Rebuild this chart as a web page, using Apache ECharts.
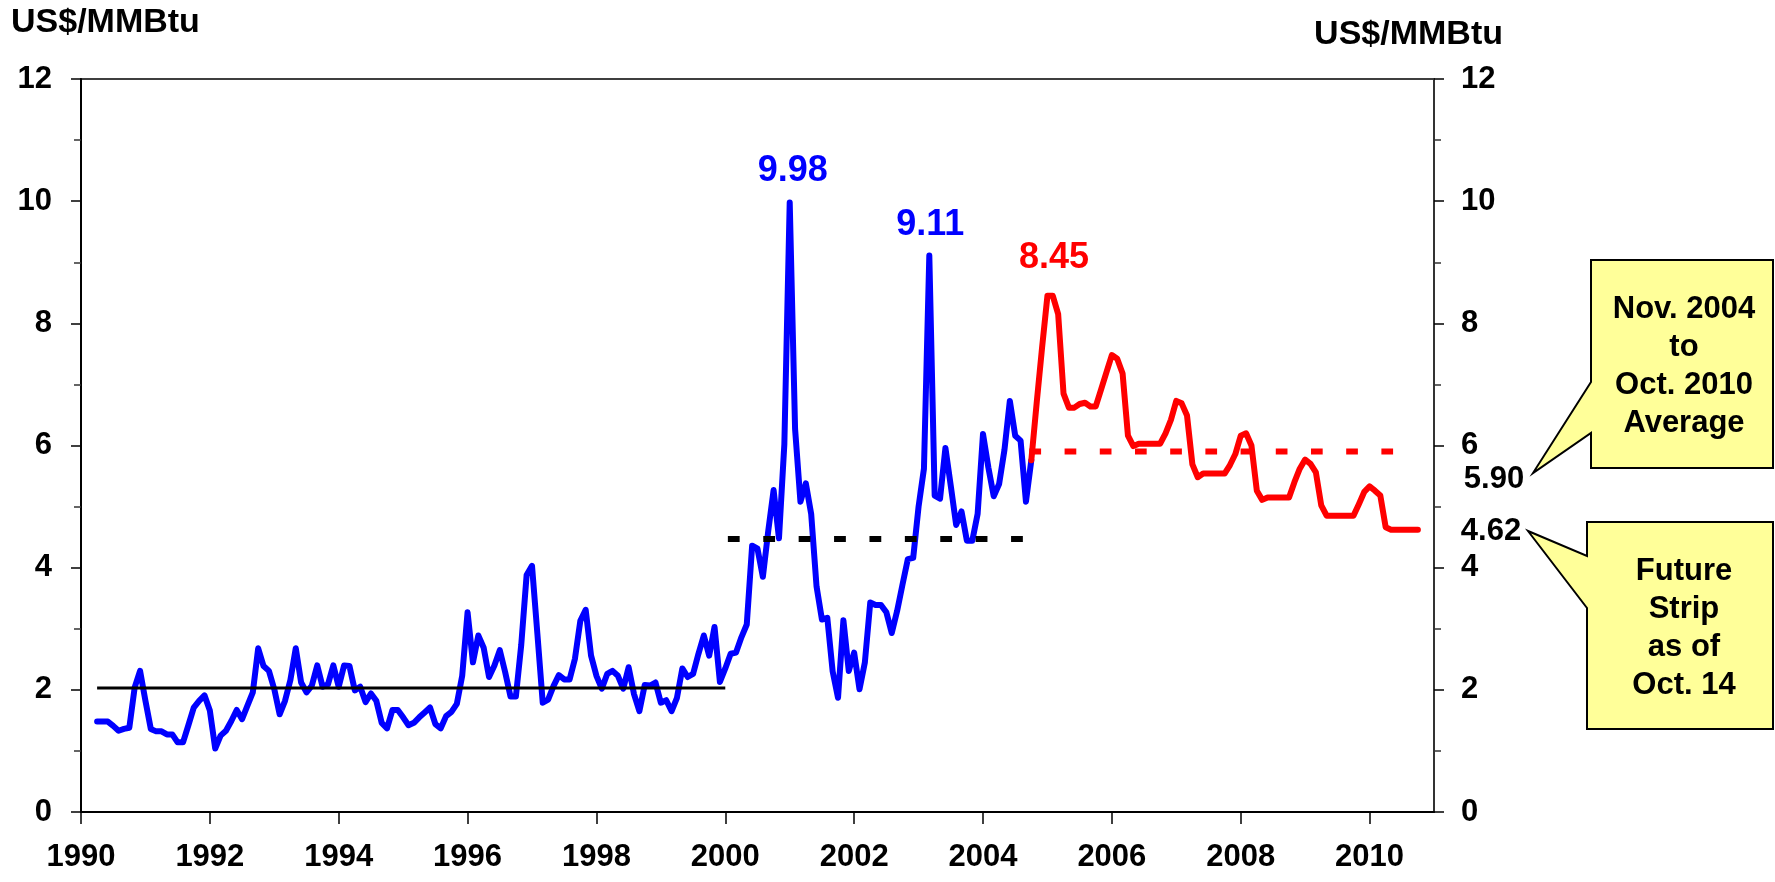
<!DOCTYPE html>
<html>
<head>
<meta charset="utf-8">
<script src="https://cdn.jsdelivr.net/npm/echarts@6/dist/echarts.min.js"></script>
<style>
html,body{margin:0;padding:0;background:#ffffff;}
#chart{width:1775px;height:882px;}
</style>
</head>
<body>
<div id="chart"></div>
<script>
// ---------- DATA ----------
const xTickYears = [1990, 1992, 1994, 1996, 1998, 2000, 2002, 2004, 2006, 2008, 2010];
const unitLabel = 'US$/MMBtu';

// Historical monthly prices (blue), starting April 1990
const histStartYear = 1990, histStartMonth = 4;
const hist1990 = [1.48, 1.48, 1.48, 1.41, 1.33, 1.36, 1.38, 2.04, 2.31];
const hist1991 = [1.82, 1.36, 1.32, 1.32, 1.27, 1.27, 1.14, 1.14, 1.42, 1.71, 1.82, 1.91];
const hist1992 = [1.66, 1.04, 1.25, 1.33, 1.49, 1.67, 1.52, 1.74, 1.96, 2.68, 2.39, 2.31];
const hist1993 = [2.01, 1.60, 1.82, 2.16, 2.68, 2.12, 1.96, 2.07, 2.40, 2.05, 2.09, 2.40];
const hist1994 = [2.05, 2.40, 2.39, 1.99, 2.05, 1.80, 1.94, 1.82, 1.46, 1.37, 1.67, 1.67];
const hist1995 = [1.55, 1.42, 1.46, 1.55, 1.63, 1.71, 1.44, 1.37, 1.57, 1.64, 1.77, 2.23];
const hist1996 = [3.27, 2.45, 2.89, 2.69, 2.21, 2.40, 2.65, 2.29, 1.89, 1.89, 2.74, 3.88];
const hist1997 = [4.03, 2.92, 1.79, 1.84, 2.06, 2.24, 2.17, 2.17, 2.51, 3.13, 3.31, 2.56];
const hist1998 = [2.23, 2.02, 2.26, 2.31, 2.23, 2.02, 2.37, 1.93, 1.65, 2.08, 2.07, 2.12];
const hist1999 = [1.79, 1.83, 1.65, 1.87, 2.35, 2.21, 2.26, 2.59, 2.89, 2.56, 3.03, 2.13];
const hist2000 = [2.35, 2.59, 2.61, 2.86, 3.07, 4.36, 4.31, 3.85, 4.60, 5.27, 4.48, 6.02];
const hist2001 = [9.98, 6.27, 5.08, 5.38, 4.88, 3.69, 3.15, 3.18, 2.30, 1.87, 3.14, 2.31];
const hist2002 = [2.61, 2.01, 2.45, 3.43, 3.39, 3.39, 3.27, 2.93, 3.29, 3.72, 4.14, 4.16];
const hist2003 = [5.00, 5.62, 9.11, 5.18, 5.13, 5.96, 5.34, 4.70, 4.92, 4.44, 4.44, 4.88];
const hist2004 = [6.19, 5.64, 5.17, 5.37, 5.93, 6.73, 6.16, 6.08, 5.08, 5.76];

// Futures strip as of Oct. 14 (red), starting October 2004 (joins last historical point)
const stripStartYear = 2004, stripStartMonth = 10;
const strip2004 = [5.76, 6.70, 7.60];
const strip2005 = [8.45, 8.45, 8.15, 6.85, 6.62, 6.62, 6.68, 6.70, 6.64, 6.64, 6.92, 7.20];
const strip2006 = [7.48, 7.42, 7.18, 6.16, 5.99, 6.03, 6.03, 6.03, 6.03, 6.03, 6.20, 6.42];
const strip2007 = [6.73, 6.69, 6.49, 5.69, 5.48, 5.54, 5.54, 5.54, 5.54, 5.54, 5.68, 5.86];
const strip2008 = [6.16, 6.20, 6.00, 5.26, 5.11, 5.15, 5.15, 5.15, 5.15, 5.15, 5.40, 5.62];
const strip2009 = [5.77, 5.70, 5.56, 5.02, 4.85, 4.85, 4.85, 4.85, 4.85, 4.85, 5.04, 5.24];
const strip2010 = [5.33, 5.26, 5.18, 4.66, 4.62, 4.62, 4.62, 4.62, 4.62, 4.62];

// Period averages
const avgNames  = ['1990s average', '2000-2004 average', 'Nov. 2004 to Oct. 2010 average'];
const avgValues = [2.03, 4.47, 5.90];
const avgFrom   = [1990.25, 2000.04, 2004.72];
const avgTo     = [2000.00, 2004.65, 2010.37];

// Peak labels
const peakText   = ['9.98', '9.11', '8.45'];
const peakYear   = [2001.0, 2003 + 2 / 12, 2005.04];
const peakValues = [9.98, 9.11, 8.45];

// Side annotations
const sideValueText = ['5.90', '4.62'];
const callout1Lines = ['Nov. 2004', 'to', 'Oct. 2010', 'Average'];
const callout2Lines = ['Future', 'Strip', 'as of', 'Oct. 14'];

// ---------- BUILD ----------
function toMonthly(startYear, startMonth, arrays) {
  const out = [];
  let k = 0;
  arrays.forEach(arr => arr.forEach(v => {
    const x = startYear + (startMonth - 1 + k) / 12;
    out.push([x, v]);
    k++;
  }));
  return out;
}
const histData = toMonthly(histStartYear, histStartMonth,
  [hist1990, hist1991, hist1992, hist1993, hist1994, hist1995, hist1996, hist1997,
   hist1998, hist1999, hist2000, hist2001, hist2002, hist2003, hist2004]);
const stripData = toMonthly(stripStartYear, stripStartMonth,
  [strip2004, strip2005, strip2006, strip2007, strip2008, strip2009, strip2010]);

const FONT = '"Liberation Sans", Arial, Helvetica, sans-serif';
const BLUE = '#0000FF', RED = '#FF0000';

function avgSeries(i, color, width, type) {
  return {
    type: 'line', name: avgNames[i],
    data: [[avgFrom[i], avgValues[i]], [avgTo[i], avgValues[i]]],
    symbol: 'none', silent: true, z: 5,
    lineStyle: { color: color, width: width, type: type, cap: 'butt' }
  };
}
function peakPoint(i, color, offset) {
  return {
    coord: [peakYear[i], peakValues[i]], value: peakText[i],
    label: { color: color, offset: offset }
  };
}

const chart = echarts.init(document.getElementById('chart'), null, { renderer: 'canvas' });

const yAxisCommon = {
  type: 'value', min: 0, max: 12, interval: 2,
  splitLine: { show: false },
  axisTick: { show: true, length: 10, lineStyle: { color: '#000', width: 1.5 } },
  minorTick: { show: true, splitNumber: 2, length: 7, lineStyle: { color: '#333', width: 1.5 } },
  minorSplitLine: { show: false },
  axisLabel: { color: '#000', fontFamily: FONT, fontWeight: 'bold', fontSize: 31, margin: 29 }
};

const option = {
  animation: false,
  backgroundColor: '#ffffff',
  grid: { left: 81, right: 341, top: 79, bottom: 70, show: true, borderColor: '#000', borderWidth: 1.5, backgroundColor: 'transparent' },
  xAxis: {
    type: 'value', min: 1990, max: 2011,
    splitLine: { show: false },
    axisLine: { show: true, onZero: false, lineStyle: { color: '#000', width: 2 } },
    axisTick: { show: true, length: 12, customValues: xTickYears, lineStyle: { color: '#000', width: 1.5 } },
    axisLabel: { customValues: xTickYears, color: '#000', fontFamily: FONT, fontWeight: 'bold', fontSize: 31, margin: 30,
                 formatter: v => (xTickYears.indexOf(v) >= 0 ? String(v) : '') }
  },
  yAxis: [
    Object.assign({}, yAxisCommon, { position: 'left',
      axisLine: { show: true, onZero: false, lineStyle: { color: '#000', width: 2 } } }),
    Object.assign({}, yAxisCommon, { position: 'right',
      axisLine: { show: true, onZero: false, lineStyle: { color: '#333', width: 2 } },
      axisLabel: Object.assign({}, yAxisCommon.axisLabel, { margin: 27 }) })
  ],
  series: [
    {
      type: 'line', name: 'Historical', data: histData, symbol: 'none', z: 3,
      lineStyle: { color: BLUE, width: 6, join: 'round', cap: 'round' },
      markPoint: {
        symbol: 'rect', symbolSize: 1, itemStyle: { color: 'rgba(0,0,0,0)' }, silent: true,
        label: { show: true, position: 'inside', formatter: p => p.value, fontFamily: FONT, fontWeight: 'bold', fontSize: 36 },
        data: [peakPoint(0, BLUE, [3, -31]), peakPoint(1, BLUE, [1, -30])]
      }
    },
    {
      type: 'line', name: 'Future strip', data: stripData, symbol: 'none', z: 3,
      lineStyle: { color: RED, width: 6, join: 'round', cap: 'round' },
      markPoint: {
        symbol: 'rect', symbolSize: 1, itemStyle: { color: 'rgba(0,0,0,0)' }, silent: true,
        label: { show: true, position: 'inside', formatter: p => p.value, fontFamily: FONT, fontWeight: 'bold', fontSize: 36 },
        data: [peakPoint(2, RED, [4, -38])]
      }
    },
    avgSeries(0, '#000', 3, 'solid'),
    avgSeries(1, '#000', 6, [11.8, 23.6]),
    avgSeries(2, RED, 6, [11.7, 23.5])
  ]
};
chart.setOption(option);

// ---------- ANNOTATIONS ----------
const textFont = 'bold 31px ' + FONT;
const y590 = chart.convertToPixel({ yAxisIndex: 0 }, avgValues[2]);
const y462 = chart.convertToPixel({ yAxisIndex: 0 }, 4.62);

chart.setOption({
  graphic: [
    { type: 'text', left: 11, top: 6, style: { text: unitLabel, font: 'bold 34px ' + FONT, fill: '#000' } },
    { type: 'text', x: 1503, y: 35, style: { text: unitLabel, font: 'bold 34px ' + FONT, fill: '#000', align: 'right', verticalAlign: 'middle' } },
    { type: 'text', x: 1494, y: y590 + 28, style: { text: sideValueText[0], font: textFont, fill: '#000', align: 'center', verticalAlign: 'middle' } },
    { type: 'text', x: 1491, y: y462 + 2, style: { text: sideValueText[1], font: textFont, fill: '#000', align: 'center', verticalAlign: 'middle' } },
    { type: 'polygon', z: 10,
      shape: { points: [[1591, 260], [1773, 260], [1773, 468], [1591, 468], [1591, 433], [1533, 473], [1591, 382]] },
      style: { fill: '#FFFF99', stroke: '#000', lineWidth: 2 } },
    { type: 'text', z: 11, x: 1684, y: 366,
      style: { text: callout1Lines.join('\n'), font: textFont, lineHeight: 38, fill: '#000', align: 'center', verticalAlign: 'middle' } },
    { type: 'polygon', z: 10,
      shape: { points: [[1587, 522], [1773, 522], [1773, 729], [1587, 729], [1587, 608], [1528, 531], [1587, 556]] },
      style: { fill: '#FFFF99', stroke: '#000', lineWidth: 2 } },
    { type: 'text', z: 11, x: 1684, y: 628,
      style: { text: callout2Lines.join('\n'), font: textFont, lineHeight: 38, fill: '#000', align: 'center', verticalAlign: 'middle' } }
  ]
});
</script>
</body>
</html>
